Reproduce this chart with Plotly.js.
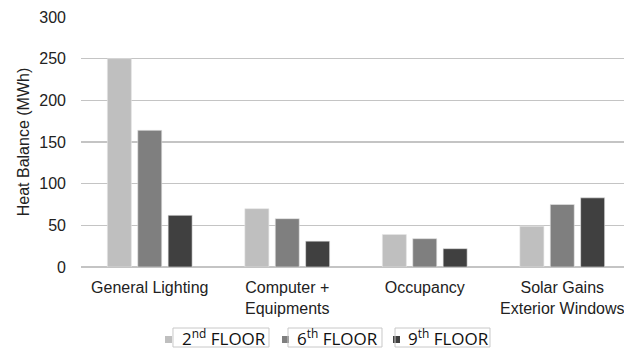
<!DOCTYPE html>
<html>
<head>
<meta charset="utf-8">
<script src="https://cdn.plot.ly/plotly-3.0.1.min.js"></script>
<style>
  html, body { margin: 0; padding: 0; background: #fff; }
  #chart { width: 624px; height: 349px; }
</style>
</head>
<body>
<div id="chart"></div>
<script>
// Heat gains by source for three office floors
const categories = ['General Lighting', 'Computer +<br>Equipments', 'Occupancy', 'Solar Gains<br>Exterior Windows'];
const floor2 = [250, 70, 39, 49];
const floor6 = [164, 58, 34, 75];
const floor9 = [62, 31, 22, 83];
const seriesNames = ['2<sup>nd</sup> FLOOR', '6<sup>th</sup> FLOOR', '9<sup>th</sup> FLOOR'];
const seriesColors = ['#bfbfbf', '#7f7f7f', '#404040'];
const yTicks = [0, 50, 100, 150, 200, 250, 300];

const seriesValues = [floor2, floor6, floor9];
const traces = seriesValues.map((vals, i) => ({
  type: 'bar',
  name: seriesNames[i],
  x: categories.map((c, k) => k),
  y: vals,
  marker: { color: seriesColors[i], line: { color: '#e6e6e6', width: 0.6 } },
  hoverinfo: 'y'
}));

// Legend below the plot: a small swatch, then the label inside a thin frame
const legendSlots = [
  { sw: 0.1547, box: [0.1694, 0.3462], text: 0.1830 },
  { sw: 0.3702, box: [0.3812, 0.5543], text: 0.3940 },
  { sw: 0.5746, box: [0.5783, 0.7532], text: 0.5980 }
];
const swatchW = 0.0129, swatchY = [-0.276, -0.304];
const boxY = [-0.244, -0.320];
const legendY = -0.282;

const shapes = [];
const annotations = [];
legendSlots.forEach((s, i) => {
  shapes.push({
    type: 'rect', xref: 'paper', yref: 'paper',
    x0: s.sw, x1: s.sw + swatchW, y0: swatchY[0], y1: swatchY[1],
    line: { width: 0 }, fillcolor: seriesColors[i]
  });
  shapes.push({
    type: 'rect', xref: 'paper', yref: 'paper',
    x0: s.box[0], x1: s.box[1], y0: boxY[0], y1: boxY[1],
    line: { color: '#c8c8c8', width: 1 }, fillcolor: 'rgba(0,0,0,0)'
  });
  annotations.push({
    xref: 'paper', yref: 'paper', x: s.text, y: legendY,
    xanchor: 'left', yanchor: 'middle', showarrow: false,
    text: seriesNames[i],
    font: { family: 'Open Sans, sans-serif', size: 17, color: '#111' }
  });
});

const axisFont = '"Liberation Sans", Arial, sans-serif';

const layout = {
  width: 624, height: 349,
  margin: { l: 81, r: 0, t: 17, b: 82 },
  paper_bgcolor: '#fff', plot_bgcolor: '#fff',
  font: { family: axisFont, color: '#222', size: 16 },
  barmode: 'group',
  bargap: 0.337,
  bargroupgap: 0.21,
  showlegend: false,
  xaxis: {
    range: [-0.5, 3.449],
    tickmode: 'array', tickvals: [0, 1, 2, 3], ticktext: categories,
    showgrid: false, zeroline: false, showline: false, ticks: '',
    ticklabeloverflow: 'allow',
    ticklabelstandoff: 9,
    tickfont: { family: axisFont, size: 16, color: '#222' }
  },
  yaxis: {
    range: [0, 300],
    tickmode: 'array', tickvals: yTicks,
    showgrid: true, gridcolor: '#c4c4c4', gridwidth: 1.3,
    zeroline: true, zerolinecolor: '#c4c4c4', zerolinewidth: 1.5,
    showline: false, ticks: '',
    ticklabelstandoff: 14,
    tickfont: { family: axisFont, size: 16, color: '#222' },
    title: { text: 'Heat Balance (MWh)', font: { family: axisFont, size: 16, color: '#222' }, standoff: 5 }
  },
  shapes: shapes,
  annotations: annotations
};

Plotly.newPlot('chart', traces, layout, { displayModeBar: false, staticPlot: true });
</script>
</body>
</html>
